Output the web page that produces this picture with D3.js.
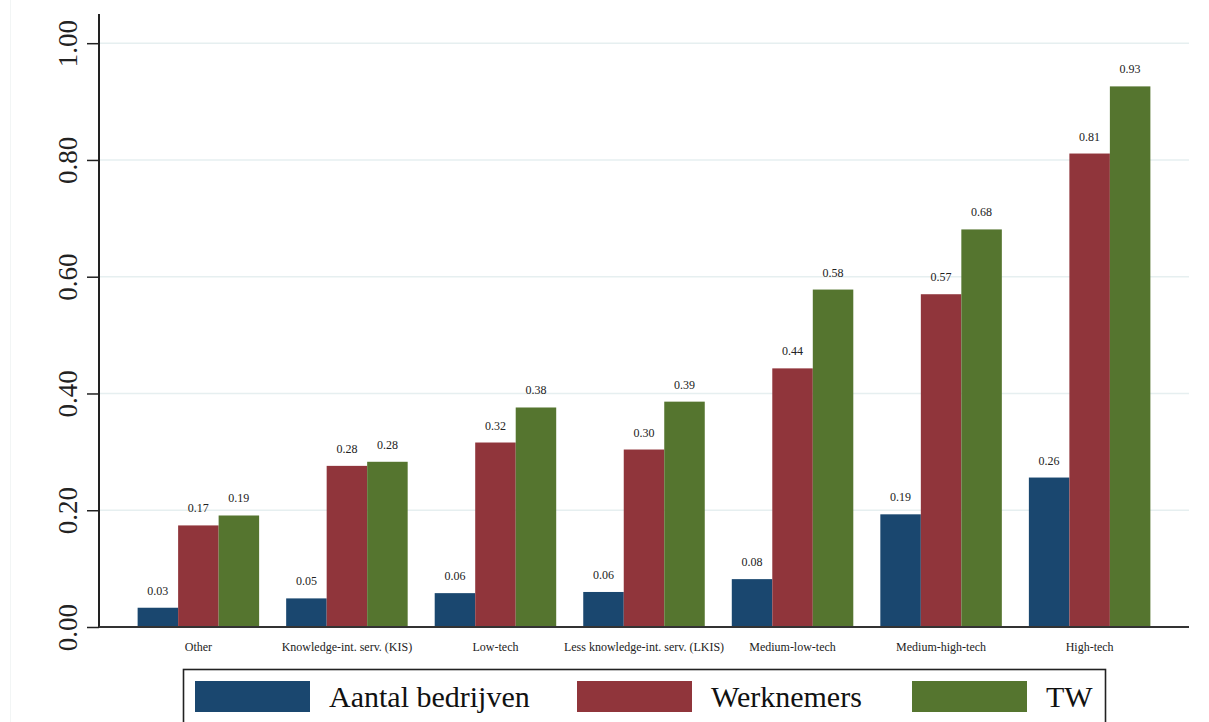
<!DOCTYPE html>
<html>
<head>
<meta charset="utf-8">
<script src="https://cdn.jsdelivr.net/npm/d3@7"></script>
<style>
  html, body { margin: 0; padding: 0; background: #fff; }
  svg { display: block; }
</style>
</head>
<body>
<svg id="chart" width="1209" height="722"></svg>
<script>
const categories = ["Other", "Knowledge-int. serv. (KIS)", "Low-tech", "Less knowledge-int. serv. (LKIS)", "Medium-low-tech", "Medium-high-tech", "High-tech"];
const seriesNames = ["Aantal bedrijven", "Werknemers", "TW"];
const aantalBedrijven = [0.033, 0.049, 0.058, 0.060, 0.082, 0.193, 0.256];
const werknemers = [0.174, 0.276, 0.316, 0.304, 0.443, 0.570, 0.811];
const tw = [0.191, 0.283, 0.376, 0.386, 0.578, 0.681, 0.926];
const yTicks = [0, 0.2, 0.4, 0.6, 0.8, 1.0];
const colors = ["#1a476f", "#90353b", "#55752f"];

(function () {
const series = [aantalBedrijven, werknemers, tw];
const svg = d3.select("#chart");
const font = "'Liberation Serif', 'Times New Roman', serif";

const mLeft = 99, mRight = 1189, mTop = 14, mBottom = 627;

const y = d3.scaleLinear().domain([0, 1.05]).range([mBottom, mTop]);
const x0 = d3.scaleBand().domain(categories).range([mLeft, mRight]).paddingInner(0.182).paddingOuter(0.26);
const x1 = d3.scaleBand().domain(seriesNames).range([0, x0.bandwidth()]);

// faint outer frame line
svg.append("line").attr("x1", 10.5).attr("x2", 10.5).attr("y1", 0).attr("y2", 722)
  .attr("stroke", "#f2f5f5").attr("stroke-width", 1);

// gridlines
svg.append("g").selectAll("line").data(yTicks.filter(d => d > 0)).join("line")
  .attr("x1", mLeft).attr("x2", mRight)
  .attr("y1", d => y(d)).attr("y2", d => y(d))
  .attr("stroke", "#e6eff0").attr("stroke-width", 1.5);

// bars
const groups = svg.append("g").selectAll("g").data(categories).join("g")
  .attr("transform", d => `translate(${x0(d)},0)`);
groups.each(function(cat, ci) {
  const g = d3.select(this);
  seriesNames.forEach((s, si) => {
    const v = series[si][ci];
    g.append("rect")
      .attr("x", x1(s)).attr("width", x1.bandwidth())
      .attr("y", y(v)).attr("height", y(0) - y(v))
      .attr("fill", colors[si]);
    g.append("text")
      .attr("x", x1(s) + x1.bandwidth() / 2)
      .attr("y", y(v) - 13)
      .attr("text-anchor", "middle")
      .attr("font-family", font).attr("font-size", 12).attr("fill", "#222")
      .text(v.toFixed(2));
  });
});

// y axis
const yAxis = d3.axisLeft(y).tickValues(yTicks).tickSize(12).tickFormat(d3.format(".2f"));
const ya = svg.append("g").attr("transform", `translate(${mLeft},0)`).call(yAxis);
ya.select(".domain").attr("stroke", "#222").attr("stroke-width", 2).attr("d", `M0,${mTop}V${mBottom}`);
ya.selectAll(".tick line").attr("stroke", "#222").attr("stroke-width", 1.5);
ya.selectAll(".tick text")
  .attr("font-family", font).attr("font-size", 27).attr("fill", "#222")
  .attr("text-anchor", "middle")
  .attr("x", null).attr("dy", null)
  .attr("transform", "translate(-22,0) rotate(-90)");

// x axis
const xAxis = d3.axisBottom(x0).tickSize(0).tickPadding(0);
const xa = svg.append("g").attr("transform", `translate(0,${mBottom})`).call(xAxis);
xa.select(".domain").attr("stroke", "#333").attr("stroke-width", 2).attr("d", `M${mLeft},0H${mRight}`);
xa.selectAll(".tick text")
  .attr("font-family", font).attr("font-size", 12).attr("fill", "#222")
  .attr("y", 24).attr("dy", 0);

// legend
const legend = svg.append("g");
legend.append("rect").attr("x", 183.5).attr("y", 669.5).attr("width", 922).attr("height", 70)
  .attr("fill", "#fff").attr("stroke", "#222").attr("stroke-width", 1.6);
const legX = [195, 577, 912];
seriesNames.forEach((s, i) => {
  legend.append("rect").attr("x", legX[i]).attr("y", 681).attr("width", 115).attr("height", 31)
    .attr("fill", colors[i]);
  legend.append("text").attr("x", legX[i] + 134).attr("y", 707)
    .attr("font-family", font).attr("font-size", 30).attr("fill", "#111")
    .text(s);
});
})();
</script>
</body>
</html>
